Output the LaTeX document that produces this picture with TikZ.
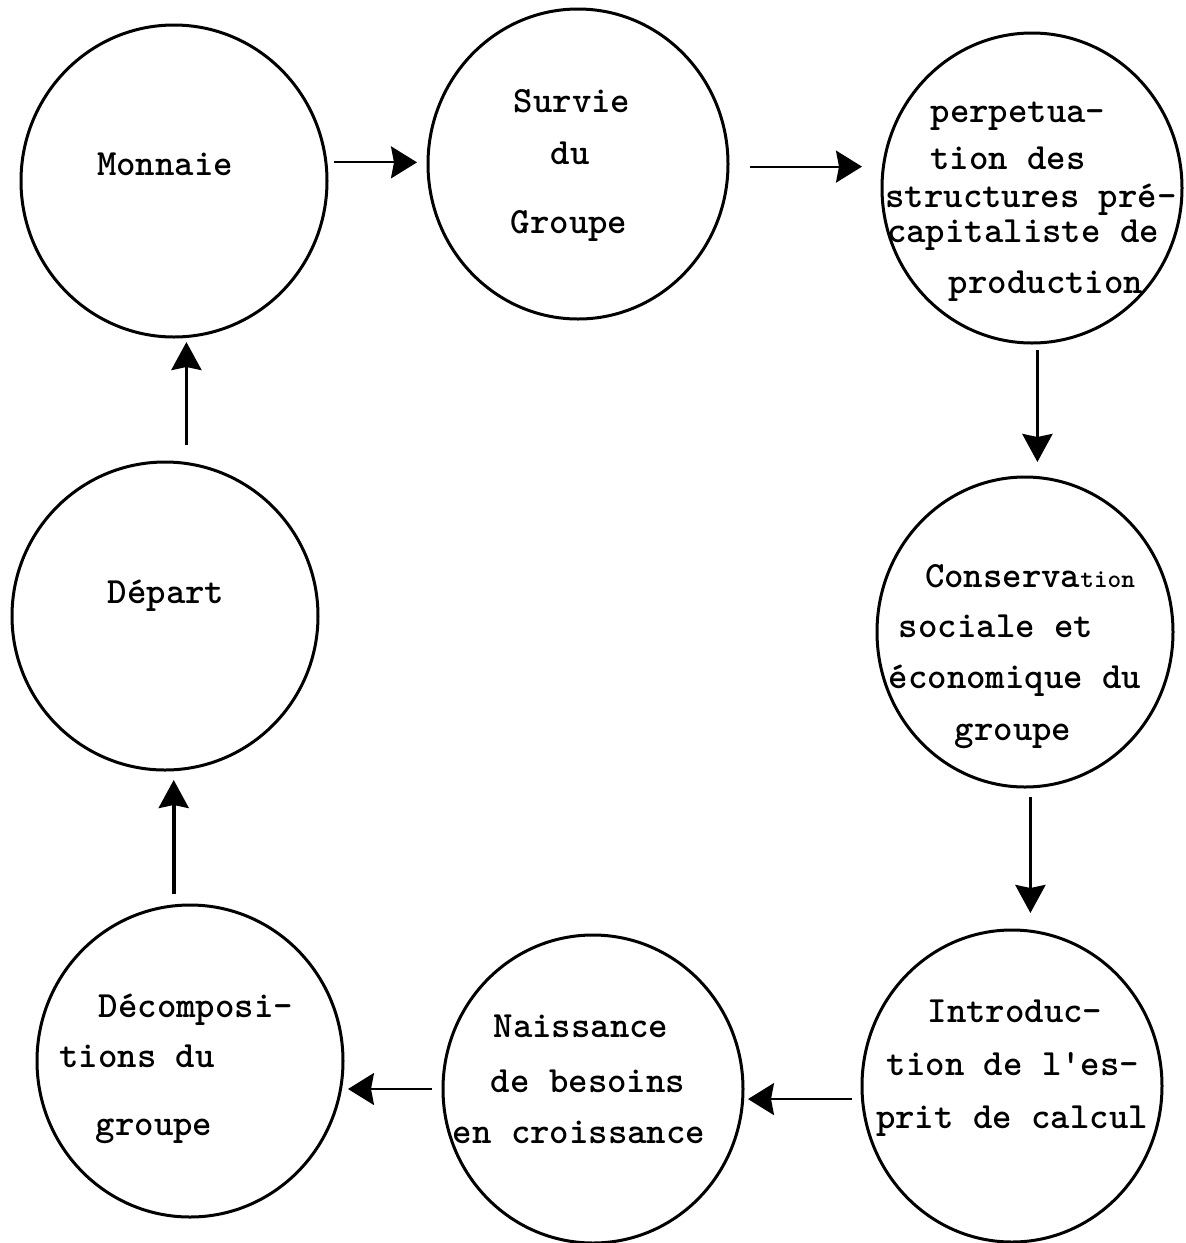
\documentclass[tikz,border=0pt]{standalone}
\usetikzlibrary{arrows.meta,shapes.geometric}
\tikzset{
  ring/.style={draw, ellipse, line width=1.5pt, inner sep=0pt, outer sep=0pt},
  txt/.style={anchor=base, inner sep=0pt, font=\fontsize{18.5}{22}\selectfont\ttfamily\bfseries},
  harr/.style={line width=1.1pt, -{Stealth[length=13pt,width=16pt,inset=1.5pt]}},
  varr/.style={line width=1.8pt, -{Stealth[length=14pt,width=15pt,inset=1.5pt]}},
}
\begin{document}
\begin{tikzpicture}[x=0.5pt,y=-0.5pt]
\useasboundingbox (0,0) rectangle (1186,1243);
% circles
\node[ring, minimum width=153pt, minimum height=156pt] (mon) at (174,181) {};
\node[ring, minimum width=150pt, minimum height=155pt] (sur) at (578,164) {};
\node[ring, minimum width=150pt, minimum height=155pt] (per) at (1032,188) {};
\node[ring, minimum width=148pt, minimum height=155pt] (con) at (1025,632) {};
\node[ring, minimum width=150pt, minimum height=156pt] (int) at (1012,1086) {};
\node[ring, minimum width=150pt, minimum height=154pt] (nai) at (593,1089) {};
\node[ring, minimum width=153pt, minimum height=156pt] (dec) at (190,1061) {};
\node[ring, minimum width=153pt, minimum height=154pt] (dep) at (165,616) {};
% texts
\node[txt] (mon-1) at (165,175) {Monnaie};
\node[txt] (sur-1) at (572,112) {Survie};
\node[txt] (sur-2) at (570,164) {du};
\node[txt] (sur-3) at (569,233) {Groupe};
\node[txt] (per-1) at (1018,122) {perpetua-};
\node[txt] (per-2) at (1008,169) {tion des};
\node[txt] (per-3) at (1031,207) {structures pré-};
\node[txt] (per-4) at (1023,242) {capitaliste de};
\node[txt] (per-5) at (1046,293) {production};
\node[txt] (con-1) at (1030,587) {Conserva{\fontsize{13}{13}\selectfont tion}};
\node[txt] (con-2) at (996,637) {sociale et};
\node[txt] (con-3) at (1015,688) {économique du};
\node[txt] (con-4) at (1013,740) {groupe};
\node[txt] (dep-1) at (166,603) {Départ};
\node[txt] (int-1) at (1015,1022) {Introduc-};
\node[txt] (int-2) at (1013,1075) {tion de l'es-};
\node[txt] (int-3) at (1012,1128) {prit de calcul};
\node[txt] (nai-1) at (581,1037) {Naissance};
\node[txt] (nai-2) at (588,1092) {de besoins};
\node[txt] (nai-3) at (579,1143) {en croissance};
\node[txt] (dec-1) at (196,1017) {Décomposi-};
\node[txt] (dec-2) at (137,1067) {tions du};
\node[txt] (dec-3) at (154,1135) {groupe};
% connectors
\draw[harr, shorten <=4pt, shorten >=5.5pt] (mon.7) -- (mon.7 -| sur.west);
\draw[harr, shorten <=11pt, shorten >=10pt] (sur.-1) -- (sur.-1 -| per.west);
\draw[varr, shorten <=3.5pt, shorten >=7.5pt] (per.-88) -- (per.-88 |- con.north);
\draw[varr, shorten <=5pt, shorten >=8.5pt] (con.-88) -- (con.-88 |- int.north);
\draw[harr, shorten <=5.5pt, shorten >=2.5pt] (int.185) -- (int.185 -| nai.east);
\draw[harr, shorten <=5.5pt, shorten >=2.5pt] (nai.west) -- (nai.west -| dec.east);
\draw[varr, shorten <=6pt, shorten >=5pt] (dec.96) -- (dec.96 |- dep.south);
\draw[varr, shorten <=9.5pt, shorten >=2.5pt] (dep.82) -- (dep.82 |- mon.south);
\end{tikzpicture}
\end{document}
